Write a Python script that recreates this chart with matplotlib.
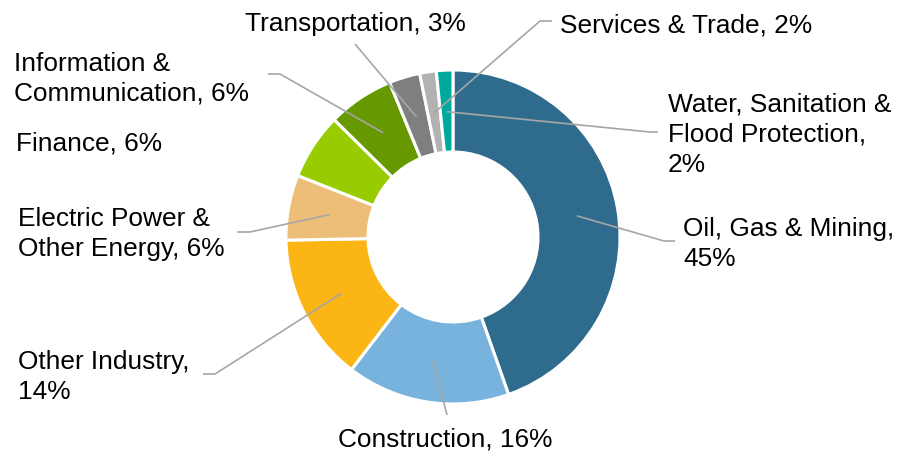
import numpy as np
import matplotlib
matplotlib.use("Agg")
import matplotlib.pyplot as plt

plt.rcParams['font.family'] = ['Liberation Sans', 'DejaVu Sans']

# data, clockwise from 12 o'clock
sectors = ["Oil, Gas & Mining,\n", "Construction, ", "Other Industry,\n",
           "Electric Power &\nOther Energy, ", "Finance, ",
           "Information &\nCommunication, ", "Transportation, ",
           "Services & Trade, ", "Water, Sanitation &\nFlood Protection,\n"]
shares = [44.6, 15.8, 14.3, 6.3, 6.4, 6.4, 3.0, 1.6, 1.6]
colors = ["#2E6B8C", "#77B3DC", "#FBB515", "#EDBE78", "#99CC00",
          "#669900", "#7F7F7F", "#B2B2B2", "#00A99D"]

# layout in pixels (y measured from the top of the image)
W, H = 898, 451
cx, cy = 453, 237
r_out, r_in = 167, 85
# left edge and baseline of the last text line
text_pos = [(683, 266), (338, 447), (18, 399), (18, 256), (16, 151),
            (14, 101), (245, 31), (560, 32), (668, 172)]
# elbow / stub points of each leader line (None = no line)
leaders = [[(664, 241), (675, 241)],
           [(447, 415)],
           [(215, 374), (203, 374)],
           [(250, 232), (237, 232)],
           None,
           [(280, 74), (268, 74)],
           [(355, 44)],
           [(540, 21), (552, 21)],
           [(650, 132), (658, 132)]]

fig = plt.figure(figsize=(W / 100, H / 100), dpi=100)
ax = fig.add_axes([0, 0, 1, 1])

wedges, _ = ax.pie(shares, colors=colors, startangle=90, counterclock=False,
                   radius=r_out, center=(cx, H - cy),
                   wedgeprops=dict(width=r_out - r_in, edgecolor='white', linewidth=2.2))

r_mid = (r_out + r_in) / 2 - 0.5
for w, name, share, (tx, ty), pts in zip(wedges, sectors, shares, text_pos, leaders):
    ax.text(tx, H - ty, f"{name}{share:.0f}%", fontsize=18.9, ha='left',
            va='baseline', linespacing=1.33, color='#000000')
    if pts is None:
        continue
    ang = np.deg2rad((w.theta1 + w.theta2) / 2)
    xs = [cx + r_mid * np.cos(ang)] + [p[0] for p in pts]
    ys = [H - cy + r_mid * np.sin(ang)] + [H - p[1] for p in pts]
    ax.plot(xs, ys, color='#A6A6A6', lw=1.2, solid_capstyle='butt')

ax.set_xlim(0, W)
ax.set_ylim(0, H)
ax.set_aspect('auto')
ax.axis('off')

fig.savefig("out.png", dpi=100)
